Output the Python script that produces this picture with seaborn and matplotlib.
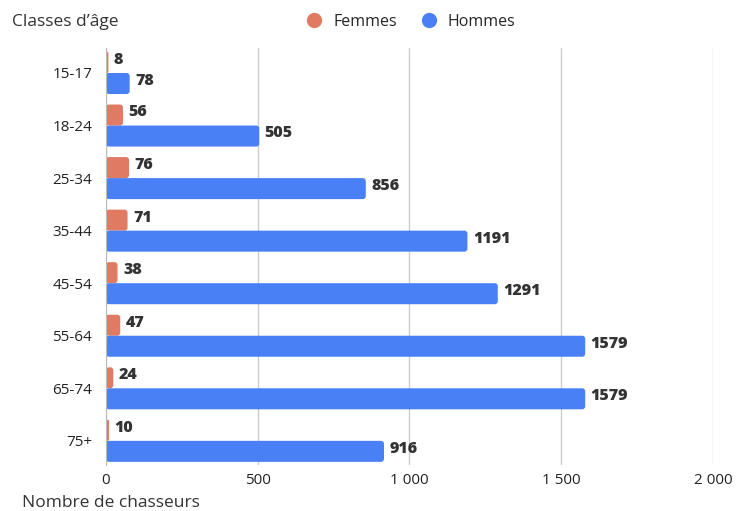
import pandas as pd
import matplotlib.pyplot as plt
import seaborn as sns
from matplotlib.lines import Line2D
from matplotlib.patches import FancyBboxPatch

# Données : chasseurs par classe d'âge et par sexe
classes = ['15-17', '18-24', '25-34', '35-44', '45-54', '55-64', '65-74', '75+']
femmes = [8, 56, 76, 71, 38, 47, 24, 10]
hommes = [78, 505, 856, 1191, 1291, 1579, 1579, 916]
ticks = [0, 500, 1000, 1500, 2000]
tick_labels = ['0', '500', '1 000', '1 500', '2 000']

couleurs = {'Femmes': '#E07A62', 'Hommes': '#4A80F6'}

df = pd.DataFrame({'Classe': classes * 2,
                   'Nombre': femmes + hommes,
                   'Sexe': ['Femmes'] * len(classes) + ['Hommes'] * len(classes)})

sns.set_style('white')
plt.rcParams['font.family'] = ['Open Sans', 'DejaVu Sans']

fig = plt.figure(figsize=(7.37, 5.11), dpi=100)
ax = fig.add_axes([0.1438, 0.09, 0.8236, 0.816])

sns.barplot(data=df, y='Classe', x='Nombre', hue='Sexe', palette=couleurs,
            orient='h', order=classes, hue_order=['Femmes', 'Hommes'],
            width=0.8, legend=False, ax=ax, saturation=1)

ax.set_xlim(0, 2000)
ax.set_ylim(7.46, -0.475)

# coins arrondis (rayon ~3 px)
ux = 2000 / (0.8236 * 737)
uy = 7.935 / (0.816 * 511)
for p in list(ax.patches):
    x0, y0 = p.get_x(), p.get_y()
    w, h = p.get_width(), p.get_height()
    if w <= 0:
        continue
    fc = p.get_facecolor()
    p.remove()
    rad = min(3 * ux, w / 2)
    r = FancyBboxPatch((x0, y0), w, h,
                       boxstyle=f'round,pad=0,rounding_size={rad}',
                       mutation_aspect=uy / ux, facecolor=fc, edgecolor='none')
    ax.add_patch(r)
    ax.text(x0 + w + 18, y0 + h / 2 - 0.05, f'{int(round(w))}', va='center', ha='left',
            fontsize=11.5, fontweight='heavy', color='#333333')

ax.set_xticks(ticks)
ax.set_xticklabels(tick_labels, fontsize=11, color='#222222')
ax.tick_params(axis='y', labelsize=11, labelcolor='#222222', length=0, pad=10)
ax.tick_params(axis='x', length=0, pad=6)
ax.grid(axis='x', color='#CCCCCC', linewidth=1)
ax.set_axisbelow(True)
for s in ['top', 'right', 'bottom']:
    ax.spines[s].set_visible(False)
ax.spines['left'].set_color('#BBBBBB')
ax.set_xlabel('')
ax.set_ylabel('')

fig.text(0.016, 0.957, 'Classes d\u2019\u00e2ge', fontsize=12.5, color='#333333', va='center')
fig.text(0.03, 0.016, 'Nombre de chasseurs', fontsize=12.5, color='#333333', va='center')

handles = [Line2D([], [], marker='o', linestyle='none', markersize=11,
                  markerfacecolor=couleurs[k], markeredgecolor='none', label=k)
           for k in ['Femmes', 'Hommes']]
fig.legend(handles=handles, loc='center', bbox_to_anchor=(0.552, 0.957), ncol=2,
           frameon=False, fontsize=11.5, handletextpad=0.2, columnspacing=1.0)

fig.savefig('out.png', dpi=100)
